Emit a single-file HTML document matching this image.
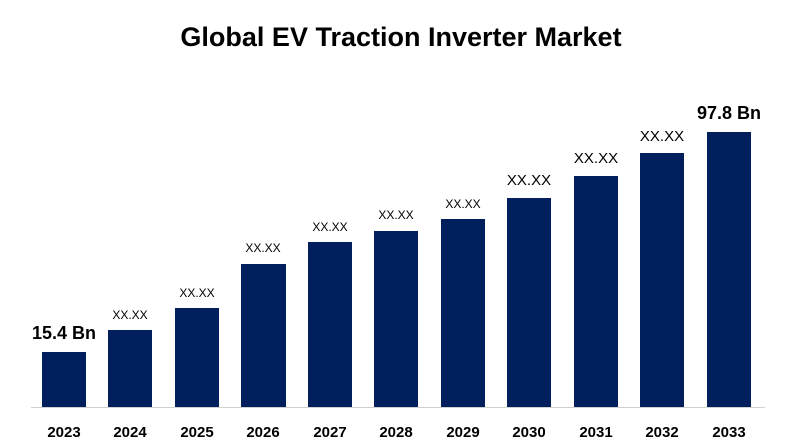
<!DOCTYPE html>
<html><head><meta charset="utf-8"><style>
html,body{margin:0;padding:0;background:#fff;}
svg{display:block;font-family:"Liberation Sans",Arial,sans-serif;}
</style></head><body>
<svg width="802" height="448" viewBox="0 0 802 448">
<text x="401" y="46" text-anchor="middle" font-size="27" font-weight="bold" fill="#000">Global EV Traction Inverter Market</text>
<line x1="31" y1="407.5" x2="765" y2="407.5" stroke="#d0d0d0" stroke-width="1"/>
<g fill="#001f5c">
<rect x="42" y="352" width="44" height="55"/>
<rect x="108" y="330" width="44" height="77"/>
<rect x="175" y="308" width="44" height="99"/>
<rect x="241" y="264" width="45" height="143"/>
<rect x="308" y="242" width="44" height="165"/>
<rect x="374" y="231" width="44" height="176"/>
<rect x="441" y="219" width="44" height="188"/>
<rect x="507" y="198" width="44" height="209"/>
<rect x="574" y="176" width="44" height="231"/>
<rect x="640" y="153" width="44" height="254"/>
<rect x="707" y="132" width="44" height="275"/>
</g>
<g font-size="12" fill="#000" text-anchor="middle">
<text x="130" y="319">XX.XX</text>
<text x="197" y="297">XX.XX</text>
<text x="263" y="252">XX.XX</text>
<text x="330" y="231">XX.XX</text>
<text x="396" y="219">XX.XX</text>
<text x="463" y="208">XX.XX</text>
</g>
<g font-size="15" fill="#000" text-anchor="middle">
<text x="529" y="185">XX.XX</text>
<text x="596" y="163">XX.XX</text>
<text x="662" y="141">XX.XX</text>
</g>
<text x="64" y="339" text-anchor="middle" font-size="18" font-weight="bold" fill="#000">15.4 Bn</text>
<text x="729" y="119" text-anchor="middle" font-size="18" font-weight="bold" fill="#000">97.8 Bn</text>
<g font-size="15" font-weight="bold" fill="#000" text-anchor="middle">
<text x="64" y="437">2023</text>
<text x="130" y="437">2024</text>
<text x="197" y="437">2025</text>
<text x="263" y="437">2026</text>
<text x="330" y="437">2027</text>
<text x="396" y="437">2028</text>
<text x="463" y="437">2029</text>
<text x="529" y="437">2030</text>
<text x="596" y="437">2031</text>
<text x="662" y="437">2032</text>
<text x="729" y="437">2033</text>
</g>
</svg>
</body></html>
